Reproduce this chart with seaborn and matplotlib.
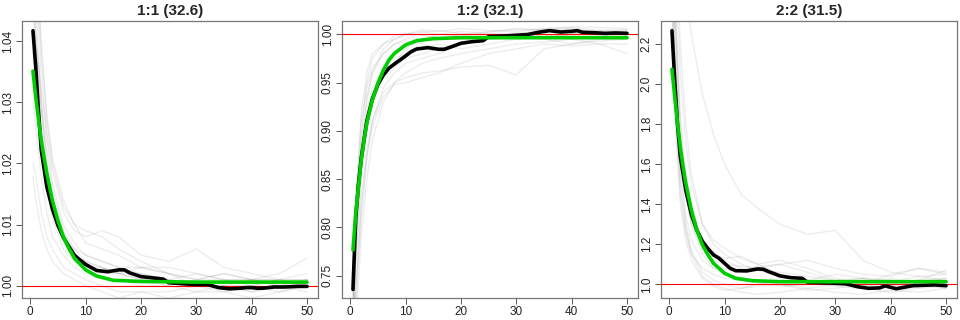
import numpy as np
import pandas as pd
import matplotlib
matplotlib.use("Agg")
import matplotlib.pyplot as plt
import seaborn as sns

# ---------------- data ----------------
titles = ["1:1 (32.6)", "1:2 (32.1)", "2:2 (31.5)"]

gray_x = [0.5, 1, 2, 3, 4, 6, 8, 10, 13, 16, 20, 25, 30, 35, 40, 45, 50]

gray_p1 = [
    [1.060, 1.050, 1.035, 1.024, 1.017, 1.010, 1.007, 1.005, 1.004, 1.003, 1.002, 1.001, 1.0005, 1.000, 0.999, 1.000, 1.001],
    [1.050, 1.042, 1.030, 1.020, 1.014, 1.008, 1.006, 1.004, 1.003, 1.002, 1.001, 1.000, 0.999, 0.999, 0.998, 0.999, 1.000],
    [1.020, 1.018, 1.012, 1.008, 1.006, 1.003, 1.002, 1.001, 1.000, 0.999, 0.999, 0.998, 0.999, 1.000, 1.000, 0.999, 1.000],
    [1.045, 1.040, 1.032, 1.025, 1.019, 1.012, 1.009, 1.008, 1.009, 1.008, 1.005, 1.004, 1.006, 1.003, 1.002, 1.001, 1.001],
    [1.070, 1.055, 1.038, 1.027, 1.020, 1.013, 1.010, 1.009, 1.008, 1.006, 1.004, 1.002, 1.001, 1.001, 1.000, 1.001, 1.002],
    [1.030, 1.026, 1.018, 1.012, 1.008, 1.005, 1.003, 1.002, 1.001, 1.001, 1.000, 1.000, 1.001, 1.002, 1.001, 1.000, 1.001],
    [1.055, 1.046, 1.030, 1.020, 1.013, 1.007, 1.004, 1.003, 1.002, 1.002, 1.003, 1.002, 1.000, 0.999, 1.000, 1.001, 1.000],
    [1.038, 1.033, 1.025, 1.018, 1.013, 1.008, 1.005, 1.004, 1.003, 1.002, 1.002, 1.001, 1.002, 1.001, 1.001, 1.002, 1.0045],
    [1.065, 1.055, 1.040, 1.028, 1.021, 1.014, 1.010, 1.007, 1.006, 1.005, 1.003, 1.002, 1.001, 1.002, 1.001, 1.001, 1.000],
    [1.018, 1.014, 1.009, 1.006, 1.004, 1.002, 1.001, 1.000, 0.999, 0.998, 0.999, 0.999, 1.000, 1.000, 0.999, 1.000, 1.000],
    [1.048, 1.040, 1.027, 1.017, 1.011, 1.006, 1.004, 1.003, 1.003, 1.002, 1.001, 1.001, 1.000, 1.000, 1.001, 1.000, 0.999],
    [1.042, 1.038, 1.029, 1.022, 1.016, 1.009, 1.006, 1.005, 1.004, 1.003, 1.003, 1.003, 1.002, 1.001, 1.001, 1.001, 1.001],
]

gray_p2 = [
    [0.70, 0.78, 0.88, 0.93, 0.96, 0.985, 0.995, 1.000, 1.003, 1.000, 0.998, 1.002, 1.005, 1.004, 1.003, 1.002, 1.004],
    [0.72, 0.80, 0.90, 0.95, 0.975, 0.990, 0.998, 1.001, 0.999, 0.996, 1.000, 1.003, 1.006, 1.005, 1.007, 1.004, 1.005],
    [0.65, 0.70, 0.79, 0.85, 0.89, 0.930, 0.950, 0.960, 0.970, 0.975, 0.980, 0.985, 0.990, 0.992, 0.995, 0.990, 0.980],
    [0.68, 0.74, 0.83, 0.88, 0.91, 0.940, 0.950, 0.955, 0.960, 0.962, 0.966, 0.968, 0.958, 0.985, 0.990, 0.995, 0.995],
    [0.74, 0.83, 0.92, 0.96, 0.98, 0.990, 0.995, 1.000, 1.005, 1.003, 1.006, 1.004, 1.003, 1.006, 1.008, 1.007, 1.006],
    [0.69, 0.76, 0.85, 0.90, 0.93, 0.955, 0.965, 0.975, 0.980, 0.985, 0.990, 0.995, 0.997, 0.995, 0.990, 0.993, 0.995],
    [0.71, 0.79, 0.87, 0.92, 0.945, 0.965, 0.975, 0.980, 0.985, 0.990, 0.985, 0.990, 0.995, 1.000, 0.998, 0.996, 0.998],
    [0.66, 0.72, 0.81, 0.87, 0.91, 0.945, 0.960, 0.970, 0.975, 0.980, 0.990, 0.998, 1.002, 1.000, 0.995, 0.998, 1.000],
    [0.73, 0.82, 0.91, 0.945, 0.965, 0.980, 0.990, 0.993, 0.990, 0.985, 0.990, 0.995, 1.000, 1.003, 1.001, 1.000, 1.002],
    [0.67, 0.73, 0.82, 0.875, 0.905, 0.935, 0.948, 0.950, 0.955, 0.960, 0.970, 0.980, 0.985, 0.990, 0.988, 0.990, 0.990],
    [0.70, 0.77, 0.86, 0.91, 0.94, 0.960, 0.970, 0.985, 0.995, 1.000, 1.003, 1.001, 0.998, 0.996, 1.000, 1.004, 1.003],
    [0.72, 0.80, 0.89, 0.935, 0.96, 0.980, 0.990, 0.995, 1.002, 1.004, 1.001, 0.999, 1.000, 1.005, 1.006, 1.002, 1.001],
]

gray_p3 = [
    [3.0, 2.4, 1.75, 1.45, 1.30, 1.15, 1.08, 1.05, 1.03, 1.02, 1.00, 0.98, 1.00, 1.02, 0.99, 1.01, 1.03],
    [2.6, 2.0, 1.50, 1.28, 1.15, 1.04, 1.00, 0.98, 0.96, 0.95, 0.96, 0.98, 0.96, 0.95, 0.97, 0.96, 0.98],
    [3.5, 3.2, 2.80, 2.50, 2.25, 1.95, 1.75, 1.60, 1.45, 1.38, 1.30, 1.25, 1.27, 1.12, 1.06, 1.04, 1.05],
    [2.9, 2.3, 1.70, 1.45, 1.30, 1.18, 1.15, 1.13, 1.14, 1.10, 1.12, 1.08, 1.03, 1.00, 1.05, 1.08, 1.06],
    [3.2, 2.5, 1.85, 1.55, 1.38, 1.22, 1.16, 1.12, 1.08, 1.07, 1.06, 1.04, 1.02, 1.03, 1.00, 1.02, 1.07],
    [2.4, 1.85, 1.40, 1.22, 1.12, 1.03, 0.99, 0.97, 0.98, 1.00, 1.02, 1.01, 0.99, 0.98, 0.96, 0.98, 0.99],
    [2.8, 2.2, 1.60, 1.35, 1.22, 1.12, 1.08, 1.08, 1.07, 1.09, 1.10, 1.06, 1.02, 1.01, 1.03, 1.00, 1.01],
    [3.1, 2.4, 1.80, 1.50, 1.33, 1.18, 1.12, 1.10, 1.09, 1.08, 1.10, 1.12, 1.08, 1.05, 1.04, 1.08, 1.05],
    [2.7, 2.1, 1.55, 1.30, 1.17, 1.06, 1.02, 1.00, 0.98, 0.99, 1.00, 0.97, 0.98, 1.00, 1.02, 1.00, 0.98],
    [3.3, 2.7, 2.05, 1.70, 1.50, 1.30, 1.22, 1.18, 1.13, 1.10, 1.05, 1.02, 1.00, 0.99, 1.01, 1.02, 1.03],
    [2.5, 1.95, 1.45, 1.25, 1.15, 1.08, 1.05, 1.03, 1.02, 1.01, 0.99, 1.00, 1.01, 1.03, 1.02, 0.99, 1.00],
    [3.6, 2.9, 2.20, 1.80, 1.55, 1.30, 1.20, 1.15, 1.10, 1.07, 1.04, 1.02, 1.05, 1.03, 1.01, 1.04, 1.02],
]

black_x = [0.5, 1, 1.5, 2, 3, 4, 5, 6, 7, 8, 9, 10, 11, 12, 14, 16, 17, 18, 20, 22, 24,
           25, 28, 30, 32, 34, 36, 38, 39, 40, 41, 42, 44, 46, 48, 50]
black_p1 = [1.0417, 1.0358, 1.0285, 1.0222, 1.0162, 1.0126, 1.0099, 1.0079, 1.0064, 1.0050, 1.0042,
            1.0035, 1.0030, 1.0025, 1.0023, 1.0026, 1.0026, 1.0021, 1.0015, 1.0013, 1.0011,
            1.0005, 1.0003, 1.0002, 1.0002, 0.9997, 0.9995, 0.9996, 0.9997, 0.9997, 0.9996,
            0.9996, 0.9998, 0.9998, 0.9999, 0.9999]
black_p2 = [0.7358, 0.810, 0.845, 0.872, 0.910, 0.933, 0.948, 0.958, 0.965, 0.9693, 0.9734,
            0.9776, 0.9820, 0.9848, 0.9862, 0.9845, 0.9845, 0.9865, 0.9907, 0.9924, 0.9934,
            0.9976, 0.9983, 0.9990, 0.9997, 1.0021, 1.0038, 1.0024, 1.0028, 1.0031, 1.0038,
            1.0021, 1.0017, 1.0010, 1.0014, 1.0010]
black_p3 = [2.268, 2.020, 1.800, 1.640, 1.470, 1.350, 1.270, 1.215, 1.178, 1.147, 1.130,
            1.105, 1.080, 1.068, 1.067, 1.077, 1.075, 1.063, 1.042, 1.033, 1.030,
            1.010, 1.007, 1.005, 1.002, 0.988, 0.980, 0.982, 0.992, 0.985, 0.978,
            0.983, 0.993, 0.995, 0.997, 0.993]

green_x = [0.5, 1, 1.5, 2, 2.5, 3, 4, 5, 6, 7, 8, 10, 12, 15, 20, 30, 40, 50]
green_p1 = [1.0351, 1.0309, 1.0272, 1.0238, 1.0210, 1.0184, 1.0140, 1.0107, 1.0080, 1.0061,
            1.0045, 1.0026, 1.0016, 1.0009, 1.0007, 1.0006, 1.0006, 1.0006]
green_p2 = [0.7766, 0.8146, 0.8422, 0.8698, 0.8900, 0.9078, 0.9320, 0.9492, 0.9630, 0.9734,
            0.9803, 0.9890, 0.9934, 0.9955, 0.9965, 0.9965, 0.9965, 0.9965]
green_p3 = [2.075, 1.938, 1.805, 1.688, 1.590, 1.505, 1.372, 1.272, 1.197, 1.147,
            1.105, 1.055, 1.030, 1.018, 1.013, 1.013, 1.013, 1.013]

y_ticks = [[1.00, 1.01, 1.02, 1.03, 1.04],
           [0.75, 0.80, 0.85, 0.90, 0.95, 1.00],
           [1.0, 1.2, 1.4, 1.6, 1.8, 2.0, 2.2]]
y_ticklabels = [["1.00", "1.01", "1.02", "1.03", "1.04"],
                ["0.75", "0.80", "0.85", "0.90", "0.95", "1.00"],
                ["1.0", "1.2", "1.4", "1.6", "1.8", "2.0", "2.2"]]
y_limits = [(0.998, 1.0433), (0.7269, 1.0138), (0.9315, 2.3165)]
x_ticks = [0, 10, 20, 30, 40, 50]
ref_level = 1.0

# ---------------- plotting ----------------
sns.set_style("white")
plt.rcParams["font.family"] = ["Liberation Sans", "DejaVu Sans"]

fig = plt.figure(figsize=(9.6, 3.2), dpi=100)
lefts = [22 / 960, 342 / 960, 661 / 960]
width = 296 / 960
bottom = 22 / 320
height = 277 / 320

grays = [gray_p1, gray_p2, gray_p3]
blacks = [black_p1, black_p2, black_p3]
greens = [green_p1, green_p2, green_p3]

for i in range(3):
    ax = fig.add_axes([lefts[i], bottom, width, height])
    rows = []
    for k, curve in enumerate(grays[i]):
        for xv, yv in zip(gray_x, curve):
            rows.append({"x": xv, "y": yv, "curve": k})
    gdf = pd.DataFrame(rows)
    sns.lineplot(data=gdf, x="x", y="y", units="curve", estimator=None,
                 color="#808080", alpha=0.14, linewidth=1.0, ax=ax, legend=False)
    ax.axhline(ref_level, color="#ff0000", linewidth=0.8, zorder=3)
    bdf = pd.DataFrame({"x": black_x, "y": blacks[i]})
    sns.lineplot(data=bdf, x="x", y="y", color="black", linewidth=2.6, ax=ax,
                 estimator=None, zorder=4)
    gr = pd.DataFrame({"x": green_x, "y": greens[i]})
    sns.lineplot(data=gr, x="x", y="y", color="#00CD00", linewidth=2.6, ax=ax,
                 estimator=None, zorder=5)

    ax.set_xlim(-1.48, 51.98)
    ax.set_ylim(*y_limits[i])
    ax.set_xticks(x_ticks)
    ax.set_xticklabels([str(t) for t in x_ticks], fontsize=8.5, color="#222222")
    ax.set_yticks(y_ticks[i])
    ax.set_yticklabels(y_ticklabels[i], fontsize=8.5, color="#222222",
                       rotation=90, va="center")
    ax.set_xlabel("")
    ax.set_ylabel("")
    ax.tick_params(axis="both", direction="out", length=4, width=0.7,
                   color="#555555", pad=2, bottom=True, left=True)
    for s in ax.spines.values():
        s.set_color("#777777")
        s.set_linewidth(0.9)
        s.set_visible(True)
    ax.set_title(titles[i], fontsize=11, fontweight="bold", pad=4)

fig.savefig("out.png", dpi=100)
